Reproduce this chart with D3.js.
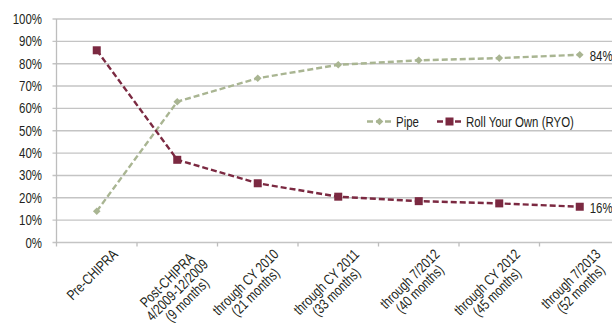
<!DOCTYPE html>
<html>
<head>
<meta charset="utf-8">
<script src="https://cdn.jsdelivr.net/npm/d3@7"></script>
<style>
  body { margin: 0; background: #fff; }
  svg text { font-family: "Liberation Sans", Arial, sans-serif; fill: #231f20; }
</style>
</head>
<body>
<svg id="chart" width="612" height="332"></svg>
<script>
'use strict';

// categories (each line of a label is an entry)
var categories = [
  ['Pre-CHIPRA'],
  ['Post-CHIPRA', '4/2009-12/2009', '(9 months)'],
  ['through CY 2010', '(21 months)'],
  ['through CY 2011', '(33 months)'],
  ['through 7/2012', '(40 months)'],
  ['through CY 2012', '(45 months)'],
  ['through 7/2013', '(52 months)']
]
var pipe = [14, 63, 73.5, 79.5, 81.5, 82.5, 84]
var ryo = [86, 37, 26.5, 20.5, 18.5, 17.5, 16]
var yTicks = [0, 10, 20, 30, 40, 50, 60, 70, 80, 90, 100]
var seriesNames = ['Pipe', 'Roll Your Own (RYO)']
var endLabels = ['84%', '16%']

var green = '#a9b592', maroon = '#7b2941'
var sx = 0.79   // squeeze to mimic the condensed face

var svg = d3.select('#chart')
var plotLeft = 56.5, plotTop = 19, plotBottom = 242.5, bandW = 80.5

var x = d3.scaleBand().domain(d3.range(categories.length))
  .range([plotLeft, plotLeft + bandW * categories.length])
var y = d3.scaleLinear().domain([0, 100]).range([plotBottom, plotTop])

// narrow text helper
function ntext(sel, tx, ty, str, size, anchor) {
  var g = sel.append('g').attr('transform', 'translate(' + tx + ',' + ty + ') scale(' + sx + ',1)')
  return g.append('text').attr('font-size', size).attr('text-anchor', anchor || 'start').text(str)
}

// gridlines
svg.append('g').selectAll('line').data(yTicks).join('line')
  .attr('x1', plotLeft - 4).attr('x2', 612)
  .attr('y1', function(d) { return y(d) }).attr('y2', function(d) { return y(d) })
  .attr('stroke', '#c4c4c4').attr('stroke-width', 1.4)

// y axis line
svg.append('line').attr('x1', plotLeft).attr('x2', plotLeft).attr('y1', plotTop).attr('y2', plotBottom + 0.5)
  .attr('stroke', '#bdbdbd').attr('stroke-width', 1.3)

// category ticks
svg.append('g').selectAll('line').data(d3.range(categories.length + 1)).join('line')
  .attr('x1', function(d) { return plotLeft + d * bandW }).attr('x2', function(d) { return plotLeft + d * bandW })
  .attr('y1', plotBottom).attr('y2', plotBottom + 4)
  .attr('stroke', '#bdbdbd').attr('stroke-width', 1.3)

// y labels
var yl = svg.append('g')
yTicks.forEach(function(d) { ntext(yl, 42, y(d) + 5, d + '%', 14.5, 'end') })

// x labels, rotated
var lineH = 14
categories.forEach(function(lines, i) {
  var cx = x(i) + x.bandwidth() / 2
  var g = svg.append('g').attr('transform', 'translate(' + (cx + 14) + ',' + (plotBottom + 5) + ') rotate(-45)')
  var texts = lines.map(function(l, j) {
    return ntext(g, 0, 11 + j * lineH, l, 14.5, 'middle')
  })
  var w = d3.max(texts, function(t) { return t.node().getComputedTextLength() }) * sx
  texts.forEach(function(t, j) {
    d3.select(t.node().parentNode).attr('transform', 'translate(' + (-w / 2) + ',' + (11 + j * lineH) + ') scale(' + sx + ',1)')
  })
})

var line = d3.line()
  .x(function(d, i) { return x(i) + x.bandwidth() / 2 })
  .y(function(d) { return y(d) })

// series
function diamond(sel, cx, cy, r) {
  sel.append('path').attr('d', 'M' + cx + ',' + (cy - r) + 'L' + (cx + r) + ',' + cy + 'L' + cx + ',' + (cy + r) + 'L' + (cx - r) + ',' + cy + 'Z')
    .attr('fill', green)
}
function square(sel, cx, cy, r) {
  sel.append('rect').attr('x', cx - r).attr('y', cy - r).attr('width', 2 * r).attr('height', 2 * r)
    .attr('fill', maroon)
}

svg.append('path').datum(pipe).attr('d', line).attr('fill', 'none')
  .attr('stroke', green).attr('stroke-width', 2.4).attr('stroke-dasharray', '6,3')
svg.append('path').datum(ryo).attr('d', line).attr('fill', 'none')
  .attr('stroke', maroon).attr('stroke-width', 2.4).attr('stroke-dasharray', '6,3')

var mk = svg.append('g')
pipe.forEach(function(v, i) { diamond(mk, x(i) + x.bandwidth() / 2, y(v), 3.8) })
ryo.forEach(function(v, i) { square(mk, x(i) + x.bandwidth() / 2, y(v), 4) })

// end labels
var last = categories.length - 1
ntext(svg, x(last) + x.bandwidth() / 2 + 10, y(pipe[last]) + 6, endLabels[0], 14.5)
ntext(svg, x(last) + x.bandwidth() / 2 + 10, y(ryo[last]) + 6, endLabels[1], 14.5)

// legend
var ly = 121.5
var leg = svg.append('g')
leg.append('line').attr('x1', 367).attr('x2', 392).attr('y1', ly).attr('y2', ly)
  .attr('stroke', green).attr('stroke-width', 2.4).attr('stroke-dasharray', '6,3')
diamond(leg, 379.5, ly, 3.8)
ntext(leg, 396, ly + 5, seriesNames[0], 14.5)
leg.append('line').attr('x1', 437).attr('x2', 462).attr('y1', ly).attr('y2', ly)
  .attr('stroke', maroon).attr('stroke-width', 2.4).attr('stroke-dasharray', '6,3')
square(leg, 449.5, ly, 4)
ntext(leg, 466, ly + 5, seriesNames[1], 14.5)
</script>
</body>
</html>
